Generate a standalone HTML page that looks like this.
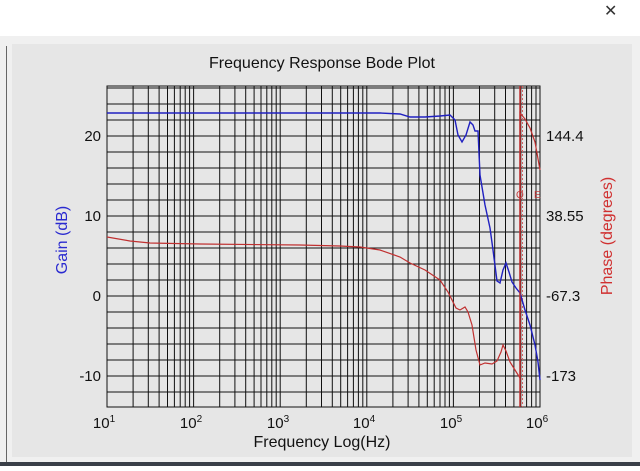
<!DOCTYPE html>
<html><head><meta charset="utf-8"><style>
body{margin:0;width:640px;height:466px;background:#fff;overflow:hidden;font-family:"Liberation Sans",sans-serif}
</style></head><body>
<svg width="640" height="466" viewBox="0 0 640 466" xmlns="http://www.w3.org/2000/svg" font-family="Liberation Sans, sans-serif">
<rect x="0" y="0" width="640" height="466" fill="#fff"/>
<text x="604" y="16" font-size="16" fill="#333">✕</text>
<rect x="0" y="36" width="640" height="430" fill="#f0f0f0"/>
<line x1="6.5" y1="46" x2="6.5" y2="466" stroke="#666" stroke-width="1"/>
<rect x="12" y="44" width="620" height="413" fill="#e6e6e6"/>
<rect x="0" y="462" width="640" height="4" fill="#3a3f48"/>
<text x="322" y="68" font-size="16" text-anchor="middle" fill="#111">Frequency Response Bode Plot</text>
<g stroke="#111" stroke-width="1" fill="none">
<path d="M107 86V407M193.6 86V407M280.2 86V407M366.8 86V407M453.4 86V407M540 86V407
M133.1 86V407M148.3 86V407M159.1 86V407M167.5 86V407M174.4 86V407M180.2 86V407M185.2 86V407M189.6 86V407
M219.7 86V407M234.9 86V407M245.7 86V407M254.1 86V407M261 86V407M266.8 86V407M271.8 86V407M276.2 86V407
M306.3 86V407M321.5 86V407M332.3 86V407M340.7 86V407M347.6 86V407M353.4 86V407M358.4 86V407M362.8 86V407
M392.9 86V407M408.1 86V407M418.9 86V407M427.3 86V407M434.2 86V407M440 86V407M445 86V407M449.4 86V407
M479.5 86V407M494.7 86V407M505.5 86V407M513.9 86V407M520.8 86V407M526.6 86V407M531.6 86V407M536 86V407"/>
<path d="M107 88H540M107 104H540M107 120H540M107 136H540M107 152H540M107 168H540M107 184H540M107 200H540M107 216H540M107 232H540M107 248H540M107 264H540M107 280H540M107 296H540M107 312H540M107 328H540M107 344H540M107 360H540M107 376H540M107 392H540"/>
<rect x="107" y="86" width="433" height="321"/>
</g>
<line x1="520" y1="86" x2="520" y2="407" stroke="#c03030" stroke-width="1.5"/>
<line x1="522.5" y1="86" x2="522.5" y2="407" stroke="#d06060" stroke-width="1" stroke-dasharray="2,2"/>
<text x="516" y="198" font-size="10" fill="#c04040">O</text><text x="534" y="198" font-size="10" fill="#c04040">E</text>
<polyline fill="none" stroke="#2020c0" stroke-width="1.4" points="107,113 300,113 380,113 400,114 410,117 425,117 440,116 450,115 455,120 458,135 462,142 466,135 470,122 473,125 475,131 478,131 480,175 485,205 490,228 493,250 497,281 500,283 503,270 506,263 509,272 512,282 516,288 520,293 525,310 530,325 535,345 538,362 540,380"/>
<polyline fill="none" stroke="#c03030" stroke-width="1.2" points="107,237 130,241 150,243 200,244 300,245 340,246 360,247 380,250 400,257 410,263 425,270 440,280 448,292 452,300 456,308 460,310 465,307 468,312 472,325 476,350 480,365 485,363 492,364 497,361 501,352 503,345 506,351 510,362 515,370 520,378 520,113 525,119 530,128 535,142 540,170"/>
<g font-size="15" fill="#111">
<text x="101" y="141" text-anchor="end">20</text>
<text x="101" y="221" text-anchor="end">10</text>
<text x="101" y="301" text-anchor="end">0</text>
<text x="101" y="381" text-anchor="end">-10</text>
<text x="546" y="141">144.4</text>
<text x="546" y="221">38.55</text>
<text x="546" y="301">-67.3</text>
<text x="546" y="381">-173</text>
</g>
<g font-size="15" fill="#111" text-anchor="middle">
<text x="104" y="428">10<tspan dy="-6" font-size="10">1</tspan></text>
<text x="191" y="428">10<tspan dy="-6" font-size="10">2</tspan></text>
<text x="278" y="428">10<tspan dy="-6" font-size="10">3</tspan></text>
<text x="364" y="428">10<tspan dy="-6" font-size="10">4</tspan></text>
<text x="451" y="428">10<tspan dy="-6" font-size="10">5</tspan></text>
<text x="537" y="428">10<tspan dy="-6" font-size="10">6</tspan></text>
</g>
<text x="322" y="447" font-size="16" text-anchor="middle" fill="#111">Frequency Log(Hz)</text>
<text transform="translate(67,240) rotate(-90)" font-size="16" text-anchor="middle" fill="#2a2ad0">Gain (dB)</text>
<text transform="translate(612,236) rotate(-90)" font-size="16" text-anchor="middle" fill="#d03030">Phase (degrees)</text>
</svg>
</body></html>
